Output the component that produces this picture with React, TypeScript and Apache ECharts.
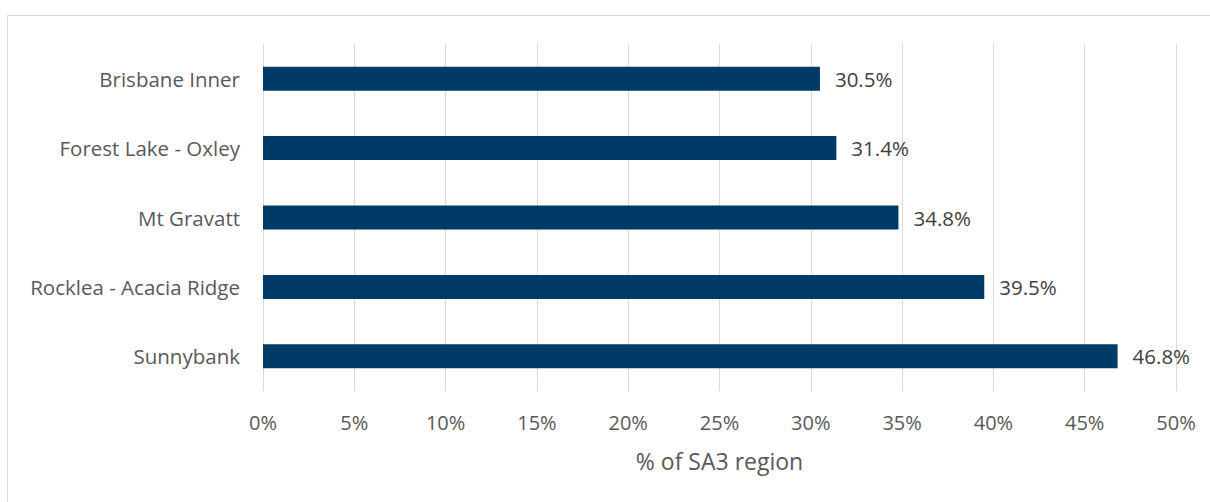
import React, { useEffect, useRef } from "react";
import * as echarts from "echarts";

const categories = ["Brisbane Inner", "Forest Lake - Oxley", "Mt Gravatt", "Rocklea - Acacia Ridge", "Sunnybank"];
const values = [30.5, 31.4, 34.8, 39.5, 46.8];
const axisName = "% of SA3 region";

export default function App() {
  const ref = useRef<HTMLDivElement>(null);
  useEffect(() => {
    document.body.style.margin = "0";
    const chart = echarts.init(ref.current!, null, { renderer: "svg" });
    const font = "'Open Sans', sans-serif";
    chart.setOption({
      animation: false,
      graphic: [
        {
          type: "rect",
          shape: { x: 7.5, y: 15.5, width: 1220, height: 500 },
          style: { fill: "none", stroke: "#d9d9d9", lineWidth: 1 },
          silent: true,
        },
      ],
      grid: { left: 263, right: 34, top: 44, bottom: 111 },
      xAxis: {
        type: "value",
        min: 0,
        max: 50,
        interval: 5,
        axisLine: { show: false },
        axisTick: { show: false },
        splitLine: { lineStyle: { color: "#d9d9d9", width: 1 } },
        axisLabel: { formatter: "{value}%", color: "#595959", fontFamily: font, fontSize: 20, margin: 21 },
        name: axisName,
        nameLocation: "middle",
        nameGap: 58,
        nameTextStyle: { color: "#595959", fontFamily: font, fontSize: 23 },
      },
      yAxis: {
        type: "category",
        data: categories,
        inverse: true,
        axisLine: { show: false },
        axisTick: { show: false },
        axisLabel: { color: "#595959", fontFamily: font, fontSize: 20.5, margin: 23 },
      },
      series: [
        {
          type: "bar",
          data: values,
          barWidth: 24,
          itemStyle: { color: "#003a66" },
          label: {
            show: true,
            position: "right",
            distance: 15,
            formatter: (p: any) => p.value.toFixed(1) + "%",
            color: "#404040",
            fontFamily: font,
            fontSize: 20.5,
          },
        },
      ],
    });
    return () => chart.dispose();
  }, []);
  return <div ref={ref} style={{ width: 1210, height: 502 }} />;
}
